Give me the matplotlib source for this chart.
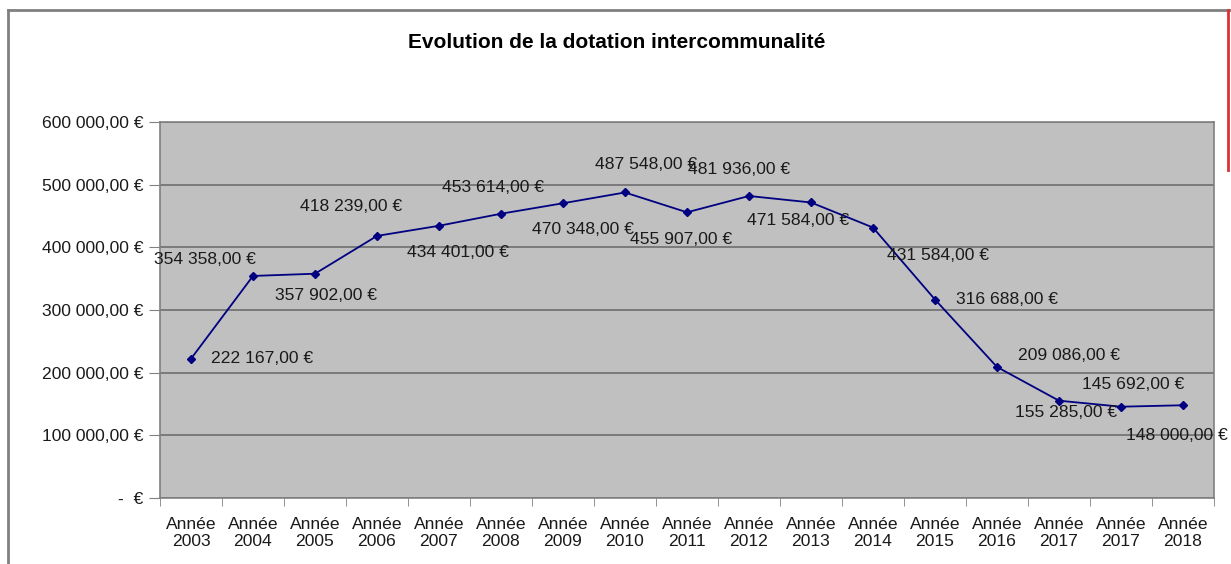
import matplotlib
matplotlib.use('Agg')
import matplotlib.pyplot as plt
from matplotlib.lines import Line2D
from matplotlib.ticker import FuncFormatter, FixedLocator

# data
categories = ['Année\n2003', 'Année\n2004', 'Année\n2005', 'Année\n2006', 'Année\n2007',
              'Année\n2008', 'Année\n2009', 'Année\n2010', 'Année\n2011', 'Année\n2012',
              'Année\n2013', 'Année\n2014', 'Année\n2015', 'Année\n2016', 'Année\n2017',
              'Année\n2017', 'Année\n2018']
values = [222167, 354358, 357902, 418239, 434401, 453614, 470348, 487548, 455907,
          481936, 471584, 431584, 316688, 209086, 155285, 145692, 148000]

# label offsets in pixels (dx, dy screen-down), tuned by eye
label_offsets = [(71, 0), (-48, -16), (11, 22), (-26, -29), (19, 27), (-8, -26),
                 (20, 26), (21, -28), (-6, 27), (-10, -26), (-13, 18), (65, 28),
                 (72, 0), (72, -11), (7, 12), (12, -22), (-6, 30)]

plt.rcParams['font.family'] = ['Liberation Sans', 'DejaVu Sans']


def euro(v):
    if v == 0:
        return '-  €'
    return f"{v:,.2f}".replace(',', ' ').replace('.', ',') + ' €'


fig = plt.figure(figsize=(12.31, 5.64), dpi=100)
ax = fig.add_axes([160 / 1231, 1 - 498 / 564, (1214 - 160) / 1231, (498 - 122) / 564])
ax.set_facecolor('#c0c0c0')

x = list(range(len(values)))
ax.plot(x, values, color='#000080', linewidth=1.3, marker='D', markersize=4.5, zorder=3)

for xi, v, (dx, dy) in zip(x, values, label_offsets):
    ax.annotate(euro(v), (xi, v), xytext=(dx, -dy), textcoords='offset pixels',
                ha='center', va='center', fontsize=12.6, color='#1a1a1a',
                annotation_clip=False, zorder=4)

ax.set_xlim(-0.5, len(values) - 0.5)
ax.set_ylim(0, 600000)
ax.set_yticks(range(0, 600001, 100000))
ax.yaxis.set_major_formatter(FuncFormatter(lambda v, p: euro(v)))
ax.grid(axis='y', color='#6e6e6e', linewidth=1.2)
ax.set_axisbelow(True)

ax.set_xticks(x)
ax.set_xticklabels(categories, fontsize=12.6, color='#1a1a1a', linespacing=1.1)
ax.xaxis.set_minor_locator(FixedLocator([i - 0.5 for i in range(len(values) + 1)]))
ax.tick_params(axis='x', which='major', length=0, pad=14)
ax.tick_params(axis='x', which='minor', length=6, color='#808080', direction='out')
ax.tick_params(axis='y', length=8, color='#808080', labelsize=12.6, labelcolor='#1a1a1a', pad=4)

for s in ax.spines.values():
    s.set_color('#808080')
    s.set_linewidth(1.2)

fig.text(617 / 1231, 1 - 42 / 564, 'Evolution de la dotation intercommunalité',
         ha='center', va='center', fontsize=15, fontweight='bold')

# outer chart frame
fig.add_artist(Line2D([8 / 1231, 8 / 1231], [0, 1 - 10 / 564], transform=fig.transFigure,
                      color='#808080', linewidth=2))
fig.add_artist(Line2D([8 / 1231, 1], [1 - 10 / 564, 1 - 10 / 564], transform=fig.transFigure,
                      color='#808080', linewidth=2))
fig.add_artist(Line2D([1228 / 1231, 1228 / 1231], [1 - 10 / 564, 1 - 170 / 564],
                      transform=fig.transFigure, color='#e03030', linewidth=2))

fig.savefig('out.png', dpi=100)
